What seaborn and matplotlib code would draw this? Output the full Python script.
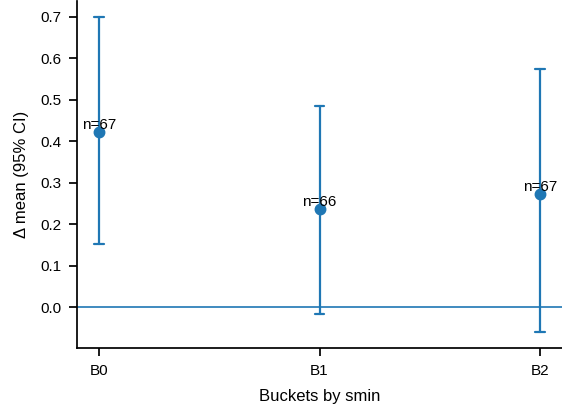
import pandas as pd
import seaborn as sns
import matplotlib.pyplot as plt

buckets = ["B0", "B1", "B2"]
mean_delta = [0.423, 0.238, 0.273]
ci_low = [0.152, -0.015, -0.059]
ci_high = [0.700, 0.484, 0.573]
n_obs = [67, 66, 67]

sns.set_style("ticks")
plt.rcParams["font.family"] = ["Liberation Sans", "DejaVu Sans"]
plt.rcParams["text.color"] = "black"
plt.rcParams["axes.labelcolor"] = "black"
plt.rcParams["xtick.color"] = "black"
plt.rcParams["ytick.color"] = "black"
plt.rcParams["axes.edgecolor"] = "black"

# three rows per bucket: median = mean, min/max = CI bounds
rows = []
for b, lo, m, hi in zip(buckets, ci_low, mean_delta, ci_high):
    for v in (lo, m, hi):
        rows.append({"bucket": b, "delta": v})
df = pd.DataFrame(rows)

fig = plt.figure(figsize=(5.62, 4.08), dpi=100)
ax = fig.add_axes([77 / 562, 1 - 348 / 408, 485 / 562, 347 / 408])

sns.pointplot(data=df, x="bucket", y="delta", order=buckets,
              estimator="median", errorbar=("pi", 100),
              linestyle="none", capsize=0.045, color="#1f77b4",
              markersize=6.5, err_kws={"linewidth": 1.6}, ax=ax)
ax.axhline(0, color="#1f77b4", linewidth=1.2)

for i, (m, n) in enumerate(zip(mean_delta, n_obs)):
    ax.text(i, m, f"n={n}", ha="center", va="bottom", fontsize=11)

ax.set_xlim(-0.1, 2.1)
ax.set_ylim(-0.098, 0.738)
ax.set_yticks([0.0, 0.1, 0.2, 0.3, 0.4, 0.5, 0.6, 0.7])
ax.tick_params(labelsize=11, length=5.5, width=1.25, pad=6)
for s in ("left", "bottom"):
    ax.spines[s].set_linewidth(1.25)
sns.despine(ax=ax)
ax.set_xlabel("Buckets by smin", fontsize=12, labelpad=8)
ax.set_ylabel("Δ mean (95% CI)", fontsize=12, labelpad=8)

fig.savefig("out.png", dpi=100)
